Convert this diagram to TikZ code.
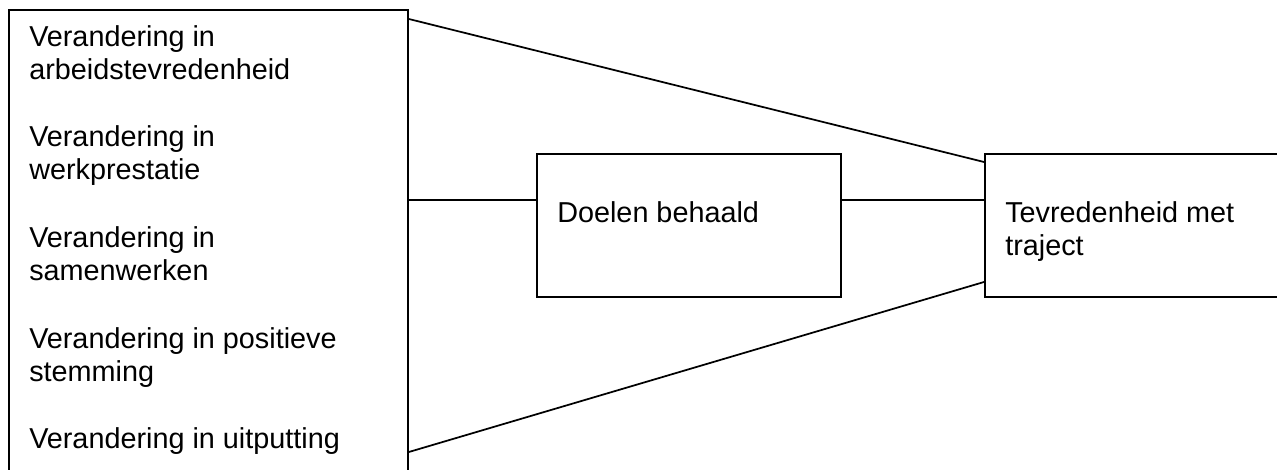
\documentclass[tikz,border=0pt]{standalone}
\usepackage{fontspec}
\setmainfont{Liberation Sans}
\begin{document}
\begin{tikzpicture}[x=0.75pt,y=-0.75pt,
  box/.style={draw=black,line width=1.4pt,fill=none,anchor=north west,inner sep=0pt},
  lbl/.style={anchor=base west,inner sep=0pt,align=left,font=\fontsize{21.6}{24.75}\selectfont},
  conn/.style={draw=black,line width=1.3pt}]
\clip (0,0) rectangle (1277,470);
\fill[white] (0,0) rectangle (1277,470);
% boxes (sizes: px * 0.75pt)
\node[box,minimum width=299.25pt,minimum height=390pt] (L) at (8,9) {};
\node[box,minimum width=228pt,minimum height=107.25pt] (M) at (536,153) {};
\node[box,minimum width=240pt,minimum height=107.25pt] (R) at (984,153) {};
% texts (anchored at the baseline of the last line)
\node[lbl] (t1) at (29,80) {Verandering in\\arbeidstevredenheid};
\node[lbl] (t2) at (29,180) {Verandering in\\werkprestatie};
\node[lbl] (t3) at (29,281) {Verandering in\\samenwerken};
\node[lbl] (t4) at (29,381) {Verandering in positieve\\stemming};
\node[lbl] (t5) at (29,448) {Verandering in uitputting};
\node[lbl] (tm) at (557,223) {Doelen behaald};
\node[lbl] (tr) at (1005,256) {Tevredenheid met\\traject};
% connector end points on box edges
\coordinate (l1) at (L.east |- 0,19);
\coordinate (l2) at (L.east |- 0,200);
\coordinate (l3) at (L.east |- 0,452);
\coordinate (m1) at (M.west |- 0,200);
\coordinate (m2) at (M.east |- 0,200);
\coordinate (r1) at (R.west |- 0,162);
\coordinate (r2) at (R.west |- 0,200);
\coordinate (r3) at (R.west |- 0,282);
\draw[conn] (l1) -- (r1);
\draw[conn] (l2) -- (m1);
\draw[conn] (m2) -- (r2);
\draw[conn] (l3) -- (r3);
\end{tikzpicture}
\end{document}
